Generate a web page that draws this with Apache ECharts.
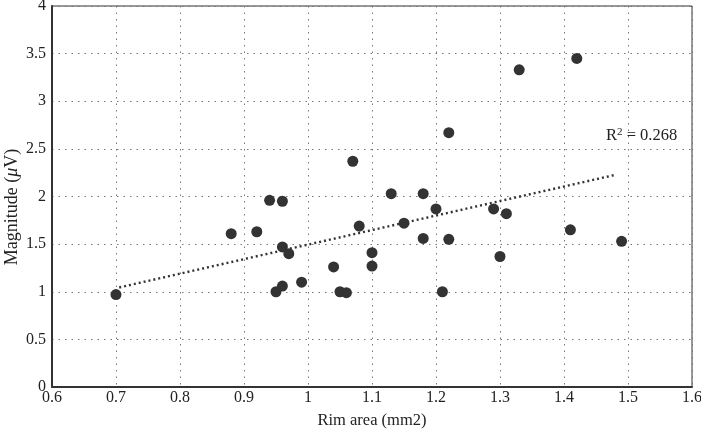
<!DOCTYPE html>
<html><head><meta charset="utf-8">
<script src="https://cdn.jsdelivr.net/npm/echarts@6/dist/echarts.min.js"></script>
<style>html,body{margin:0;padding:0;background:#fff}#c{width:701px;height:430px}</style>
</head><body><div id="c"></div>
<script>
const rimArea = [0.70,0.88,0.92,0.94,0.96,0.96,0.97,0.95,0.96,0.99,1.04,1.05,1.06,1.07,1.08,1.10,1.10,1.13,1.15,1.18,1.18,1.20,1.21,1.22,1.22,1.29,1.31,1.30,1.33,1.41,1.42,1.49];
const magnitude = [0.97,1.61,1.63,1.96,1.95,1.47,1.40,1.00,1.06,1.10,1.26,1.00,0.99,2.37,1.69,1.41,1.27,2.03,1.72,2.03,1.56,1.87,1.00,2.67,1.55,1.87,1.82,1.37,3.33,1.65,3.45,1.53];
// trendline end points
const trendX = [0.705, 1.482];
const trendY = [1.045, 2.23];
const xTicks = [0.6,0.7,0.8,0.9,1,1.1,1.2,1.3,1.4,1.5,1.6];
const yTicks = [0,0.5,1,1.5,2,2.5,3,3.5,4];
const r2Value = '0.268';

const pts = rimArea.map((x,i)=>[x,magnitude[i]]);
const trend = trendX.map((x,i)=>[x,trendY[i]]);

const font = '"Liberation Serif","Times New Roman",serif';
const chart = echarts.init(document.getElementById('c'));
chart.setOption({
  animation:false,
  textStyle:{fontFamily:font},
  grid:{left:52,right:9,top:6,bottom:43,show:true,borderColor:'#333',borderWidth:1,outerBoundsMode:'none',containLabel:false},
  xAxis:{type:'value',min:xTicks[0],max:xTicks[xTicks.length-1],interval:0.1,
    name:'Rim area (mm2)',nameLocation:'middle',nameGap:25,
    nameTextStyle:{fontFamily:font,fontSize:16.5,color:'#222'},
    axisLine:{show:true,onZero:false,lineStyle:{color:'#333',width:2}},
    axisTick:{show:false},
    axisLabel:{fontFamily:font,fontSize:16,color:'#222',margin:3,formatter:v=>String(+v.toFixed(1))},
    splitLine:{show:true,lineStyle:{color:'#777',type:[1.5,5],width:1}}},
  yAxis:{type:'value',min:yTicks[0],max:yTicks[yTicks.length-1],interval:0.5,
    axisLine:{show:true,onZero:false,lineStyle:{color:'#333',width:2}},
    axisTick:{show:false},
    axisLabel:{fontFamily:font,fontSize:16,color:'#222',margin:6},
    splitLine:{show:true,lineStyle:{color:'#777',type:[1.5,5],width:1}}},
  series:[
    {type:'scatter',data:pts,symbol:'circle',symbolSize:11,itemStyle:{color:'#333',opacity:1},z:3},
    {type:'line',data:trend,symbol:'none',lineStyle:{color:'#333',width:2.4,type:[2,3]},z:2,silent:true}
  ],
  graphic:[
    {type:'text',x:12,y:207,rotation:Math.PI/2,
      style:{text:'Magnitude ({i|μ}V)',align:'center',verticalAlign:'middle',fontFamily:font,fontSize:18,fill:'#222',
        rich:{i:{fontFamily:font,fontSize:18,fontStyle:'italic',fill:'#222'}}}},
    {type:'text',x:606,y:136,
      style:{text:'R{s|2} = '+r2Value,align:'left',verticalAlign:'middle',fontFamily:font,fontSize:16.5,fill:'#222',
        rich:{s:{fontFamily:font,fontSize:11,fill:'#222',verticalAlign:'top',padding:[0,0,8,0]}}}}
  ]
});
</script></body></html>
